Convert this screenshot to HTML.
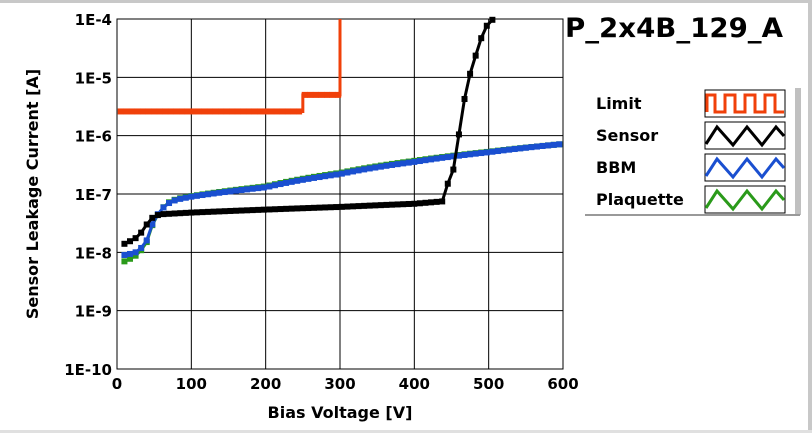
<!DOCTYPE html>
<html><head><meta charset="utf-8"><style>
body{margin:0;background:#fff;width:812px;height:433px;overflow:hidden}
text{font-family:"DejaVu Sans","Liberation Sans",sans-serif;font-weight:bold}
</style></head><body>
<svg id="s" width="812" height="433" xmlns="http://www.w3.org/2000/svg">
<rect x="0" y="0" width="812" height="433" fill="#fff"/>
<rect x="0" y="0" width="812" height="3" fill="#c8c8c8"/>
<rect x="808" y="0" width="4" height="433" fill="#c8c8c8"/>
<rect x="0" y="430" width="812" height="3" fill="#e0e0e0"/>
<g id="grid" stroke="#000" stroke-width="1"></g>
<rect x="117" y="19" width="446" height="350" fill="none" stroke="#000" stroke-width="1"/>
<g id="ticks" font-size="15" fill="#000"></g>
<text x="340" y="418" font-size="16" text-anchor="middle">Bias Voltage [V]</text>
<text transform="translate(38,194) rotate(-90)" font-size="16" text-anchor="middle">Sensor Leakage Current [A]</text>
<text x="565" y="37" font-size="27" textLength="218" lengthAdjust="spacingAndGlyphs">P_2x4B_129_A</text>
<g id="series"></g>
<rect x="585" y="90" width="210" height="125" fill="#fff"/>
<rect x="795" y="88" width="6" height="127" fill="#c0c0c0"/>
<line x1="585" y1="215" x2="800" y2="215" stroke="#999" stroke-width="2"/>
<g font-size="16" fill="#000">
<text x="596" y="109">Limit</text><text x="596" y="141">Sensor</text>
<text x="596" y="173">BBM</text><text x="596" y="205">Plaquette</text></g>
<g id="leg"></g>
</svg>
<script>
const NS="http://www.w3.org/2000/svg";
function el(p,t,a){const e=document.createElementNS(NS,t);for(const k in a)e.setAttribute(k,a[k]);if(p)document.getElementById(p).appendChild(e);return e;}
const X=v=>117+v*446/600, Y=l=>19+(-4-l)*58.33;
for(let v=100;v<600;v+=100)el("grid","line",{x1:X(v),x2:X(v),y1:19,y2:369});
for(let d=-5;d>=-9;d--)el("grid","line",{x1:117,x2:563,y1:Y(d),y2:Y(d)});
[0,100,200,300,400,500,600].forEach(v=>{const t=el("ticks","text",{x:X(v),y:389,"text-anchor":"middle"});t.textContent=v;});
for(let d=-4;d>=-10;d--){const t=el("ticks","text",{x:112,y:Y(d)+6,"text-anchor":"end"});t.textContent="1E"+d;}
function interp(pts,v){for(let i=0;i<pts.length-1;i++){if(v>=pts[i][0]&&v<=pts[i+1][0]){const f=(v-pts[i][0])/(pts[i+1][0]-pts[i][0]);return pts[i][1]+f*(pts[i+1][1]-pts[i][1]);}}return pts[pts.length-1][1];}
const L=Math.log10;
function series(pts,col,vmax,step){let d="";const ms=[];for(let v=10;v<=vmax;v+=step){const y=Y(L(interp(pts,v)));d+=(d?"L":"M")+X(v)+","+y;ms.push([X(v),y]);}
el("series","path",{d:d,fill:"none",stroke:col,"stroke-width":3});ms.forEach(m=>el("series","rect",{x:m[0]-3,y:m[1]-3,width:6,height:6,fill:col}));}
series([[10,7e-9],[20,8e-9],[30,9.5e-9],[40,1.5e-8],[50,3.4e-8],[60,5.5e-8],[70,7.2e-8],[80,8.2e-8],[100,9.2e-8],[200,1.35e-7],[300,2.3e-7],[400,3.7e-7],[500,5.3e-7],[600,7.2e-7]],"#2a9a1a",600,7.5);
series([[10,9e-9],[20,9.5e-9],[30,1.05e-8],[40,1.6e-8],[50,3.5e-8],[60,5.5e-8],[70,7e-8],[80,8e-8],[100,9e-8],[200,1.3e-7],[300,2.2e-7],[400,3.55e-7],[500,5.2e-7],[600,7.2e-7]],"#1a4fd0",600,7.5);
series([[10,1.4e-8],[20,1.6e-8],[30,1.9e-8],[40,3e-8],[50,4.2e-8],[60,4.5e-8],[100,4.8e-8],[200,5.4e-8],[300,6e-8],[400,6.8e-8],[440,7.5e-8],[455,3e-7],[463,1.5e-6],[472,7e-6],[482,2.2e-5],[491,5e-5],[502,9.5e-5],[510,1e-4]],"#000",510,7.5);
(function(){const c="#f0400a";let d=`M${X(5)},${Y(L(2.6e-6))}H${X(250)}V${Y(L(5e-6))}H${X(300)}V19`;el("series","path",{d:d,fill:"none",stroke:c,"stroke-width":3});
for(let v=5;v<=300;v+=7.5){const y=v<250?Y(L(2.6e-6)):Y(L(5e-6));el("series","rect",{x:X(v)-3,y:y-3,width:6,height:6,fill:c});}})();
const lg=[["#f0400a",0],["#000",1],["#1a4fd0",1],["#2a9a1a",1]];
lg.forEach((g,i)=>{const y0=90+i*32;el("leg","rect",{x:705,y:y0,width:80,height:27,fill:"#fff",stroke:"#000","stroke-width":1});
let d;if(g[1]==0){d=`M707,${y0+22}V${y0+5}H715V${y0+22}H725V${y0+5}H735V${y0+22}H745V${y0+5}H755V${y0+22}H765V${y0+5}H775V${y0+22}H784`;}
else{d=`M706,${y0+22}L717,${y0+5}L733,${y0+23}L747,${y0+5}L762,${y0+23}L776,${y0+5}L784,${y0+14}`;}
el("leg","path",{d:d,fill:"none",stroke:g[0],"stroke-width":3});});
</script>
</body></html>
